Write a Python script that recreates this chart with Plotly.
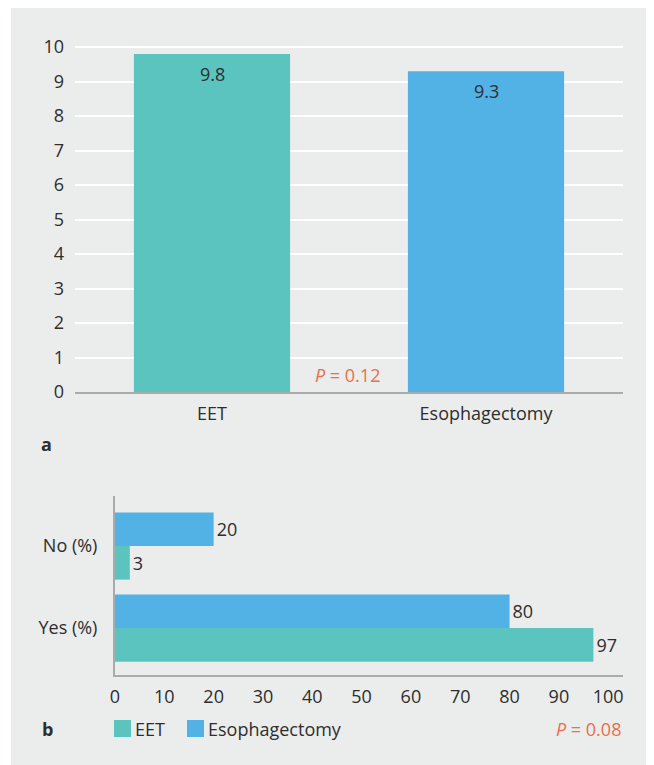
import plotly.graph_objects as go

# ---- data ----
groups = ["EET", "Esophagectomy"]
mean_values = [9.8, 9.3]
responses = ["Yes (%)", "No (%)"]
series_names = ["EET", "Esophagectomy"]
eet_pct = [97, 3]
esoph_pct = [80, 20]
p_a = "0.12"
p_b = "0.08"

TEAL = "#5bc4be"
BLUE = "#52b2e5"
TXT = "#2e2e2e"
ORANGE = "#e8704a"
GRAYBG = "#ebecec"
AXIS = "#a9abae"
FONT = "Open Sans"
FS = 18
W, H = 654, 765
OFF = 8  # page body margin


def px_x(s):
    return (s - OFF) / W


def px_y(s):
    return 1 - (s - OFF) / H


fig = go.Figure()

# panel a
fig.add_trace(go.Bar(
    x=groups, y=mean_values, marker_color=[TEAL, BLUE], width=0.57,
    showlegend=False, xaxis="x", yaxis="y", marker_line_width=0, hoverinfo="x+y",
))

# panel b
fig.add_trace(go.Bar(
    y=responses, x=eet_pct, orientation="h", name=series_names[0], marker_color=TEAL,
    text=[str(v) for v in eet_pct], textposition="outside", cliponaxis=False,
    textfont=dict(color=TXT, size=FS, family=FONT), xaxis="x2", yaxis="y2",
    marker_line_width=0, showlegend=False,
))
fig.add_trace(go.Bar(
    y=responses, x=esoph_pct, orientation="h", name=series_names[1], marker_color=BLUE,
    text=[str(v) for v in esoph_pct], textposition="outside", cliponaxis=False,
    textfont=dict(color=TXT, size=FS, family=FONT), xaxis="x2", yaxis="y2",
    marker_line_width=0, showlegend=False,
))

annotations = []
for g, v in zip(groups, mean_values):
    annotations.append(dict(text=f"{v}", x=g, y=v, xref="x", yref="y", yshift=-20,
                            xanchor="center", yanchor="middle",
                            showarrow=False, font=dict(size=FS, color=TXT)))

annotations += [
    dict(text="<b>a</b>", xref="paper", yref="paper", x=px_x(46), y=px_y(444),
         xanchor="center", yanchor="middle",
         showarrow=False, font=dict(size=FS, color=TXT)),
    dict(text="<b>b</b>", xref="paper", yref="paper", x=px_x(47), y=px_y(729),
         xanchor="center", yanchor="middle",
         showarrow=False, font=dict(size=FS, color=TXT)),
    dict(text=f"<i>P</i> = {p_a}", xref="paper", yref="paper", x=px_x(348),
         y=px_y(375), xanchor="center", yanchor="middle",
         showarrow=False, font=dict(size=FS, color=ORANGE)),
    dict(text=f"<i>P</i> = {p_b}", xref="paper", yref="paper", x=px_x(623),
         y=px_y(729), xanchor="right", yanchor="middle", showarrow=False,
         font=dict(size=FS, color=ORANGE)),
]

shapes = [dict(type="rect", xref="paper", yref="paper", x0=px_x(11), x1=1.05,
               y0=-0.05, y1=px_y(7), fillcolor=GRAYBG, line_width=0, layer="below")]

# custom legend
legend_x = [114, 187]
for name, col, lx in zip(series_names, [TEAL, BLUE], legend_x):
    shapes.append(dict(type="rect", xref="paper", yref="paper", x0=px_x(lx), x1=px_x(lx + 17),
                       y0=px_y(737), y1=px_y(720), fillcolor=col, line_width=0))
    annotations.append(dict(text=name, xref="paper", yref="paper", x=px_x(lx + 19),
                            y=px_y(729), xanchor="left", yanchor="middle", showarrow=False,
                            font=dict(size=FS, color=TXT)))

fig.update_layout(
    width=W, height=H, margin=dict(l=0, r=0, t=0, b=0, pad=0, autoexpand=False),
    paper_bgcolor="white", plot_bgcolor="rgba(0,0,0,0)",
    font=dict(family=FONT, size=FS, color=TXT),
    barmode="group", bargap=0.18, bargroupgap=0, showlegend=False,
    xaxis=dict(domain=[px_x(75), px_x(623)], anchor="y", showgrid=False,
               showline=True, linecolor=AXIS, linewidth=2, ticks="", automargin=False,
               ticklabelstandoff=4, tickfont=dict(size=FS, color=TXT), fixedrange=True),
    yaxis=dict(domain=[px_y(392), px_y(45)], anchor="x", range=[0, 10.058],
               dtick=1, showgrid=True, gridcolor="white", gridwidth=2, automargin=False,
               zeroline=False, showline=False, ticks="", ticklabelstandoff=10,
               tickfont=dict(size=FS, color=TXT)),
    xaxis2=dict(domain=[px_x(115), px_x(623)], anchor="y2", range=[0, 103],
                dtick=10, showgrid=False, zeroline=False, showline=True, automargin=False,
                linecolor=AXIS, linewidth=2, ticks="", ticklabelstandoff=4,
                tickfont=dict(size=FS, color=TXT)),
    yaxis2=dict(domain=[px_y(675), px_y(496)], anchor="x2", range=[-0.573, 1.61],
                showgrid=False, zeroline=False, showline=True, linecolor=AXIS,
                linewidth=2, ticks="", ticklabelstandoff=12, automargin=False,
                tickfont=dict(size=FS, color=TXT)),
    shapes=shapes,
    annotations=annotations,
)

fig.write_html("out.html")
